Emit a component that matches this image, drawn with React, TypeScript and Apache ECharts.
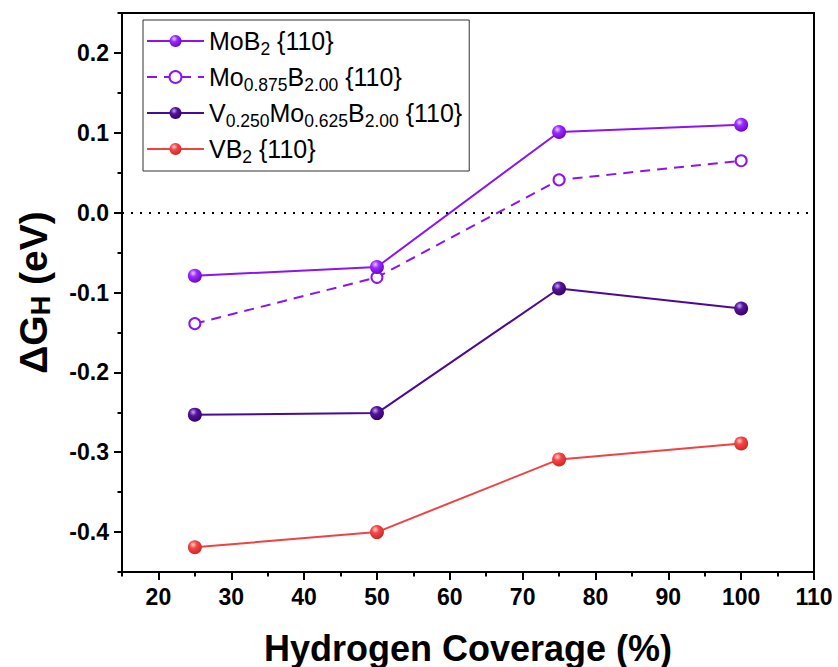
import React, { useEffect, useRef } from "react";
import * as echarts from "echarts";

const coverage = [25, 50, 75, 100];
const moB2 = [-0.079, -0.068, 0.101, 0.11];
const mo0875 = [-0.139, -0.081, 0.041, 0.065];
const v0250 = [-0.253, -0.251, -0.095, -0.12];
const vB2 = [-0.419, -0.4, -0.309, -0.289];

const seriesNames = ["MoB2 {110}", "Mo0.875B2.00 {110}", "V0.250Mo0.625B2.00 {110}", "VB2 {110}"];
const legendRich: Record<string, string> = {
  "MoB2 {110}": "MoB{s|2} {110}",
  "Mo0.875B2.00 {110}": "Mo{s|0.875}B{s|2.00} {110}",
  "V0.250Mo0.625B2.00 {110}": "V{s|0.250}Mo{s|0.625}B{s|2.00} {110}",
  "VB2 {110}": "VB{s|2} {110}",
};

const xMajor = [20, 30, 40, 50, 60, 70, 80, 90, 100, 110];
const yMajor = [-0.4, -0.3, -0.2, -0.1, 0.0, 0.1, 0.2];

const FONT = '"Liberation Sans", Arial, Helvetica, sans-serif';

const VIOLET = "#8a14f2";
const INDIGO = "#4a0a98";
const RED = "#f04242";

function sphere(light: string, base: string, dark: string) {
  return {
    type: "radial",
    x: 0.38,
    y: 0.32,
    r: 0.75,
    colorStops: [
      { offset: 0, color: light },
      { offset: 0.35, color: base },
      { offset: 1, color: dark },
    ],
  };
}

export default function App() {
  const ref = useRef<HTMLDivElement>(null);
  useEffect(() => {
    document.body.style.margin = "0";
    const chart = echarts.init(ref.current!, null, { renderer: "svg" });
    const pts = (arr: number[]) => coverage.map((c, i) => [c, arr[i]]);
    chart.setOption({
      animation: false,
      backgroundColor: "#fff",
      grid: {
        left: 122,
        top: 13,
        right: 24,
        bottom: 95,
        show: true,
        borderColor: "#000",
        borderWidth: 2,
        outerBoundsMode: "none",
      },
      xAxis: [
        {
          type: "value",
          min: 15,
          max: 110,
          position: "bottom",
          offset: 0,
          name: "Hydrogen Coverage (%)",
          nameLocation: "middle",
          nameGap: 58,
          nameTextStyle: { fontSize: 36, fontWeight: "bold", color: "#000", fontFamily: FONT },
          axisLine: { show: true, onZero: false, lineStyle: { color: "#000", width: 2 } },
          axisTick: { show: true, length: 8, lineStyle: { color: "#000", width: 2 }, customValues: xMajor },
          axisLabel: {
            customValues: xMajor,
            fontSize: 23,
            fontWeight: "bold",
            color: "#000",
            fontFamily: FONT,
            margin: 13,
          },
          splitLine: { show: false },
        },
        {
          type: "value",
          min: 15,
          max: 110,
          interval: 5,
          position: "bottom",
          offset: 0,
          axisLine: { show: false, onZero: false },
          axisTick: { show: true, length: 4.5, lineStyle: { color: "#000", width: 2 } },
          axisLabel: { show: false },
          splitLine: { show: false },
        },
      ],
      yAxis: [
        {
          type: "value",
          min: -0.45,
          max: 0.25,
          position: "left",
          offset: 0,
          name: "ΔG{s|H} (eV)",
          nameLocation: "middle",
          nameGap: 68,
          nameTextStyle: {
            fontSize: 39,
            fontWeight: "bold",
            color: "#000",
            fontFamily: FONT,
            lineHeight: 42,
            rich: {
              s: { fontSize: 27, fontWeight: "bold", fontFamily: FONT, color: "#000", verticalAlign: "bottom", lineHeight: 16 },
            },
          },
          axisLine: { show: true, onZero: false, lineStyle: { color: "#000", width: 2 } },
          axisTick: { show: true, length: 8, lineStyle: { color: "#000", width: 2 }, customValues: yMajor },
          axisLabel: {
            customValues: yMajor,
            fontSize: 23,
            fontWeight: "bold",
            color: "#000",
            fontFamily: FONT,
            margin: 13,
            formatter: (v: number) => v.toFixed(1),
          },
          splitLine: { show: false },
        },
        {
          type: "value",
          min: -0.45,
          max: 0.25,
          interval: 0.05,
          position: "left",
          offset: 0,
          axisLine: { show: false, onZero: false },
          axisTick: { show: true, length: 4.5, lineStyle: { color: "#000", width: 2 } },
          axisLabel: { show: false },
          splitLine: { show: false },
        },
      ],
      legend: {
        orient: "vertical",
        left: 143,
        top: 20,
        itemWidth: 57,
        itemHeight: 15,
        itemGap: 2,
        padding: [4, 7, 5, 3],
        borderColor: "#333",
        borderWidth: 1,
        backgroundColor: "#fff",
        selectedMode: false,
        data: seriesNames,
        formatter: (name: string) => legendRich[name] || name,
        textStyle: {
          fontSize: 25,
          lineHeight: 28,
          color: "#000",
          fontFamily: FONT,
          rich: {
            s: { fontSize: 17.5, lineHeight: 34, color: "#000", fontFamily: FONT, verticalAlign: "bottom" },
          },
        },
      },
      series: [
        {
          name: seriesNames[0],
          type: "line",
          xAxisIndex: 0,
          yAxisIndex: 0,
          data: pts(moB2),
          symbol: "circle",
          symbolSize: 14,
          lineStyle: { color: VIOLET, width: 2 },
          itemStyle: { color: sphere("#e6ccff", "#9a2cff", "#6a00c4") },
          z: 4,
          markLine: {
            silent: true,
            symbol: ["none", "none"],
            label: { show: false },
            lineStyle: { color: "#000", width: 2, type: [2, 7] },
            data: [{ yAxis: 0 }],
          },
        },
        {
          name: seriesNames[1],
          type: "line",
          xAxisIndex: 0,
          yAxisIndex: 0,
          data: pts(mo0875),
          symbol: "circle",
          symbolSize: 11,
          lineStyle: { color: VIOLET, width: 2, type: [10, 7] },
          itemStyle: { color: "#fff", borderColor: VIOLET, borderWidth: 2 },
          z: 3,
        },
        {
          name: seriesNames[2],
          type: "line",
          xAxisIndex: 0,
          yAxisIndex: 0,
          data: pts(v0250),
          symbol: "circle",
          symbolSize: 14,
          lineStyle: { color: INDIGO, width: 2 },
          itemStyle: { color: sphere("#c6a8ee", "#55139e", "#30005e") },
          z: 3,
        },
        {
          name: seriesNames[3],
          type: "line",
          xAxisIndex: 0,
          yAxisIndex: 0,
          data: pts(vB2),
          symbol: "circle",
          symbolSize: 14,
          lineStyle: { color: RED, width: 2 },
          itemStyle: { color: sphere("#ffd0d0", "#f24848", "#cc2222") },
          z: 3,
        },
      ],
    });
    return () => chart.dispose();
  }, []);
  return <div ref={ref} style={{ width: 838, height: 667 }} />;
}
